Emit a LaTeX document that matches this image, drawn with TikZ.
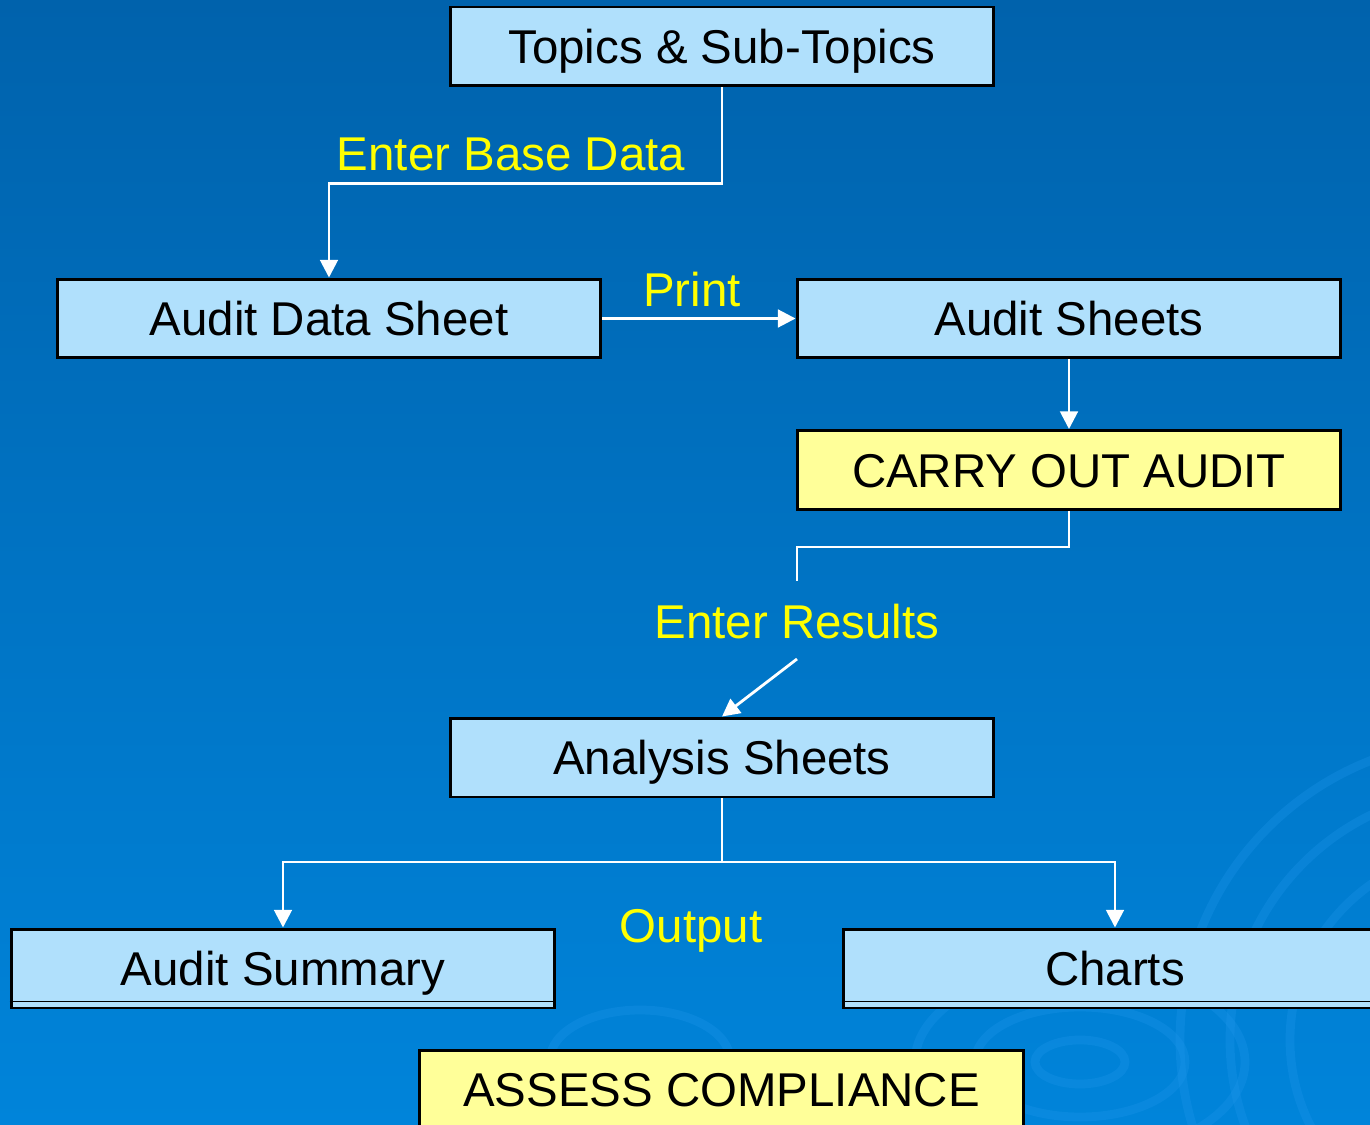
\documentclass[tikz,border=0pt]{standalone}
\usepackage{fontspec}
\setmainfont{Liberation Sans}
\usetikzlibrary{arrows.meta}
\definecolor{bgtop}{RGB}{0,98,172}
\definecolor{bgbot}{RGB}{0,132,218}
\definecolor{boxblue}{RGB}{176,224,252}
\definecolor{boxyellow}{RGB}{255,255,153}
\definecolor{swirl}{RGB}{30,150,235}
\definecolor{baseline}{RGB}{0,128,224}
\definecolor{lblyellow}{RGB}{255,255,0}
\tikzset{
  box/.style={draw=black, line width=1.7pt, fill=boxblue, minimum width=10.88cm,
    minimum height=1.58cm, inner sep=0pt, text height=19.4pt, text depth=0pt,
    font=\fontsize{27}{32}\selectfont},
  yellowbox/.style={box, fill=boxyellow},
  lbl/.style={text=lblyellow, inner sep=0pt, text height=19.4pt, text depth=0pt,
    font=\fontsize{27}{32}\selectfont},
  link/.style={white, line width=1.6pt},
  arr/.style={link, -{Triangle[width=10pt,length=10pt]}},
  ring/.style={swirl, line width=5pt, opacity=0.3}
}
\begin{document}
\begin{tikzpicture}[x=0.02cm, y=-0.02cm]
    \useasboundingbox (0,0) rectangle (1370,1125);
    \clip (0,0) rectangle (1370,1125);
    % background
    \shade[top color=bgtop, bottom color=bgbot] (0,0) rectangle (1370,1125);
    \draw[ring] (1080,1062) ellipse (45 and 22);
    \draw[ring] (1080,1062) ellipse (105 and 55);
    \draw[ring] (1080,1062) ellipse (165 and 95);
    \draw[ring] (1480,1040) circle (250);
    \draw[ring] (1480,1040) circle (300);
    \draw[ring] (1480,1040) circle (190);
    \draw[ring] (640,1060) ellipse (90 and 50);

    % boxes
    \node[box] (topics) at (722,46.5) {Topics \& Sub-Topics};
    \node[box] (datasheet) at (329,318.5) {Audit Data Sheet};
    \node[box] (sheets) at (1069,318.5) {Audit Sheets};
    \node[yellowbox] (carry) at (1069,470) {CARRY OUT AUDIT};
    \node[box] (analysis) at (722,757.5) {Analysis Sheets};
    \node[box] (summary) at (283,968.5) {Audit Summary};
    \node[box] (charts) at (1115,968.5) {Charts};
    \node[yellowbox, minimum width=12.1cm] (assess) at (721.5,1089.5) {ASSESS COMPLIANCE};
    \draw[baseline, line width=0.6pt] ([yshift=4.5pt]summary.south west) -- ([yshift=4.5pt]summary.south east);
    \draw[baseline, line width=0.6pt] ([yshift=4.5pt]charts.south west) -- ([yshift=4.5pt]charts.south east);

    % labels
    \node[lbl] (base) at (511,153) {Enter Base Data};
    \node[lbl] (print) at (692,289) {Print};
    \node[lbl] (results) at (797,621) {Enter Results};
    \node[lbl] (output) at (691,925) {Output};

    % connectors
    \coordinate (r1) at (797,581);
    \coordinate (r2) at (797,659);
    \coordinate (split) at (722,862);
    \draw[arr] (topics.south) -- ++(0,96) -| (datasheet.north);
    \draw[arr] (datasheet.east) -- (sheets.west);
    \draw[arr] (sheets.south) -- (carry.north);
    \draw[link] (carry.south) -- ++(0,36) -| (r1);
    \draw[arr] (r2) -- (analysis.north);
    \draw[link] (analysis.south) -- (split);
    \draw[arr] (split) -| (summary.north);
    \draw[arr] (split) -| (charts.north);
\end{tikzpicture}
\end{document}
